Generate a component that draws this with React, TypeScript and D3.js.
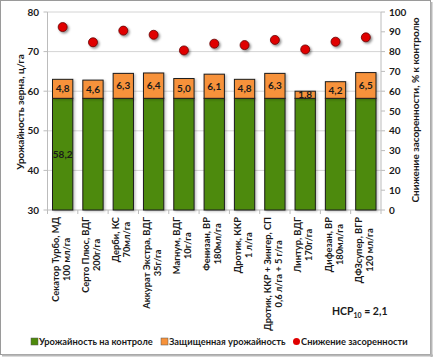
import React, { useEffect, useRef } from "react";
import * as d3 from "d3";

const categories: string[][] = [
  ["Секатор Турбо, МД", "100 мл/га"],
  ["Серто Плюс, ВДГ", "200г/га"],
  ["Дерби, КС", "70мл/га"],
  ["Аккурат Экстра, ВДГ", "35г/га"],
  ["Магнум, ВДГ", "10г/га"],
  ["Фенизан, ВР", "180мл/га"],
  ["Дротик, ККР", "1 л/га"],
  ["Дротик, ККР + Зингер, СП", "0,6 л/га + 5 г/га"],
  ["Линтур, ВДГ", "170г/га"],
  ["Дифезан, ВР", "180мл/га"],
  ["ДФЗсупер, ВГР", "120 мл/га"],
];
const controlYield = [58.2, 58.2, 58.2, 58.2, 58.2, 58.2, 58.2, 58.2, 58.2, 58.2, 58.2];
const protectedYield = [4.8, 4.6, 6.3, 6.4, 5.0, 6.1, 4.8, 6.3, 1.8, 4.2, 6.5];
const weedReduction = [92.4, 84.7, 90.6, 88.5, 80.6, 84.0, 83.3, 85.9, 81.1, 85.0, 87.2];
const leftTicks = [30, 40, 50, 60, 70, 80];
const rightTicks = [0, 10, 20, 30, 40, 50, 60, 70, 80, 90, 100];
const seriesNames = ["Урожайность на контроле", "Защищенная урожайность", "Снижение засоренности"];

const W = 433, H = 357;
const L = 47.5, R = 381, T = 12, B = 210;
const FONT = "Lato, 'Open Sans', sans-serif";
const GREEN = "#4E8A0C";
const ORANGE = "#F7923A";
const RED = "#E00000";
const fmt = (v: number) => v.toFixed(1).replace(".", ",");

export default function App() {
  const ref = useRef<SVGSVGElement>(null);

  useEffect(() => {
    const svg = d3.select(ref.current);
    svg.selectAll("*").remove();

    const defs = svg.append("defs");
    const f = defs.append("filter").attr("id", "sh").attr("x", "-50%").attr("y", "-50%").attr("width", "200%").attr("height", "200%");
    f.append("feDropShadow").attr("dx", 1.5).attr("dy", 1.5).attr("stdDeviation", 1).attr("flood-color", "#000").attr("flood-opacity", 0.45);
    const fb = defs.append("filter").attr("id", "shb").attr("x", "-20%").attr("y", "-20%").attr("width", "150%").attr("height", "150%");
    fb.append("feDropShadow").attr("dx", 1.5).attr("dy", 1).attr("stdDeviation", 0.8).attr("flood-color", "#000").attr("flood-opacity", 0.25);

    // outer frame
    svg.append("rect").attr("x", 0).attr("y", 0).attr("width", W).attr("height", H).attr("fill", "#fff");
    svg.append("rect").attr("x", 0.5).attr("y", 0.5).attr("width", W - 3).attr("height", H - 3)
      .attr("fill", "none").attr("stroke", "#9a9a9a");
    svg.append("line").attr("x1", W - 1.5).attr("x2", W - 1.5).attr("y1", 2).attr("y2", H).attr("stroke", "#b8b8b8").attr("stroke-width", 2);
    svg.append("line").attr("x1", 2).attr("x2", W).attr("y1", H - 1.5).attr("y2", H - 1.5).attr("stroke", "#b8b8b8").attr("stroke-width", 2);

    const x = d3.scaleBand<number>().domain(d3.range(categories.length)).range([L, R]).paddingInner(0.33).paddingOuter(0.165);
    const yL = d3.scaleLinear().domain([30, 80]).range([B, T]);
    const yR = d3.scaleLinear().domain([0, 100]).range([B, T]);

    // gridlines
    svg.append("g").selectAll("line").data(leftTicks.slice(1)).join("line")
      .attr("x1", L).attr("x2", R).attr("y1", (d) => yL(d)).attr("y2", (d) => yL(d))
      .attr("stroke", "#d4d4d4").attr("stroke-width", 1);

    // axes lines
    svg.append("line").attr("x1", L).attr("x2", L).attr("y1", T).attr("y2", B).attr("stroke", "#bcbcbc");
    svg.append("line").attr("x1", R).attr("x2", R).attr("y1", T).attr("y2", B).attr("stroke", "#bcbcbc");
    svg.append("line").attr("x1", L).attr("x2", R).attr("y1", B).attr("y2", B).attr("stroke", "#bcbcbc");

    const txt = (sel: any, size: number) =>
      sel.attr("font-family", FONT).attr("font-weight", "bold").attr("font-size", size).attr("fill", "#1a1a1a");

    // left ticks
    const lt = svg.append("g");
    lt.selectAll("line").data(leftTicks).join("line")
      .attr("x1", L - 4).attr("x2", L).attr("y1", (d) => yL(d)).attr("y2", (d) => yL(d)).attr("stroke", "#bcbcbc");
    txt(lt.selectAll("text").data(leftTicks).join("text")
      .attr("x", 39).attr("y", (d) => yL(d)).attr("dy", "0.35em").attr("text-anchor", "end"), 10)
      .text((d: number) => d);
    // right ticks
    const rt = svg.append("g");
    rt.selectAll("line").data(rightTicks).join("line")
      .attr("x1", R).attr("x2", R + 4).attr("y1", (d) => yR(d)).attr("y2", (d) => yR(d)).attr("stroke", "#bcbcbc");
    txt(rt.selectAll("text").data(rightTicks).join("text")
      .attr("x", 389).attr("y", (d) => yR(d)).attr("dy", "0.35em").attr("text-anchor", "start"), 10)
      .text((d: number) => d);
    // category ticks
    svg.append("g").selectAll("line").data(d3.range(categories.length + 1)).join("line")
      .attr("x1", (i) => L + (i * (R - L)) / categories.length).attr("x2", (i) => L + (i * (R - L)) / categories.length)
      .attr("y1", B).attr("y2", B + 4).attr("stroke", "#bcbcbc");

    // bars
    const bars = svg.append("g");
    categories.forEach((_, i) => {
      const bx = x(i)!;
      const bw = x.bandwidth();
      const c = controlYield[i];
      const p = protectedYield[i];
      bars.append("rect").attr("x", bx).attr("y", yL(c)).attr("width", bw).attr("height", yL(30) - yL(c))
        .attr("fill", GREEN).attr("stroke", "#1c1c1c").attr("stroke-width", 1).attr("filter", "url(#shb)");
      bars.append("rect").attr("x", bx).attr("y", yL(c + p)).attr("width", bw).attr("height", yL(c) - yL(c + p))
        .attr("fill", ORANGE).attr("stroke", "#1c1c1c").attr("stroke-width", 1).attr("filter", "url(#shb)");
      txt(bars.append("text").attr("x", bx + bw / 2).attr("y", (yL(c) + yL(c + p)) / 2).attr("dy", "0.36em")
        .attr("text-anchor", "middle"), 10).text(fmt(p));
      if (i === 0) {
        txt(bars.append("text").attr("x", bx + bw / 2).attr("y", (yL(c) + yL(30)) / 2).attr("dy", "0.36em")
          .attr("text-anchor", "middle"), 10).text(fmt(c));
      }
    });

    // points
    svg.append("g").selectAll("circle").data(weedReduction).join("circle")
      .attr("cx", (_, i) => x(i)! + x.bandwidth() / 2).attr("cy", (d) => yR(d)).attr("r", 4.5)
      .attr("fill", RED).attr("stroke", "#600").attr("stroke-width", 0.8).attr("filter", "url(#sh)");

    // category labels (rotated, two centered lines)
    const lg = svg.append("g");
    categories.forEach((lines, i) => {
      const cx = x(i)! + x.bandwidth() / 2;
      const texts = lines.map((s) =>
        txt(lg.append("text").attr("text-anchor", "middle"), 9.3).text(s)
      );
      const lens = texts.map((t: any) => (t.node() as SVGTextElement).getComputedTextLength());
      const maxLen = Math.max(...lens, 40);
      const cy = 217 + maxLen / 2;
      texts.forEach((t: any, j: number) => {
        const xx = cx + 1.5 + (j - (lines.length - 1) / 2) * 11;
        t.attr("transform", `translate(${xx},${cy}) rotate(-90)`);
      });
    });

    // axis titles
    txt(svg.append("text").attr("transform", `translate(23.5,112) rotate(-90)`).attr("text-anchor", "middle"), 10)
      .text("Урожайность зерна, ц/га");
    txt(svg.append("text").attr("transform", `translate(418.5,110) rotate(-90)`).attr("text-anchor", "middle"), 10)
      .text("Снижение засоренности, % к контролю");

    // НСР
    const n = txt(svg.append("text").attr("x", 332).attr("y", 315), 10.5);
    n.append("tspan").text("НСР");
    n.append("tspan").attr("font-size", 7).attr("dy", 2.5).text("10");
    n.append("tspan").attr("dy", -2.5).text(" = 2,1");

    // legend
    const leg = svg.append("g");
    const ly = 341.5;
    const items = [
      { x: 31, kind: "rect", color: GREEN, name: seriesNames[0] },
      { x: 161, kind: "rect", color: ORANGE, name: seriesNames[1] },
      { x: 293, kind: "circle", color: RED, name: seriesNames[2] },
    ];
    items.forEach((it) => {
      if (it.kind === "rect") {
        leg.append("rect").attr("x", it.x).attr("y", ly - 3.5).attr("width", 7).attr("height", 7)
          .attr("fill", it.color).attr("stroke", "#555").attr("stroke-width", 0.5);
      } else {
        leg.append("circle").attr("cx", it.x + 3.5).attr("cy", ly).attr("r", 3.5).attr("fill", it.color);
      }
      txt(leg.append("text").attr("x", it.x + 8).attr("y", ly).attr("dy", "0.35em"), 9.3).text(it.name);
    });
  }, []);

  return (
    <svg ref={ref} width={W} height={H} style={{ position: "absolute", left: 0, top: 0 }} />
  );
}
